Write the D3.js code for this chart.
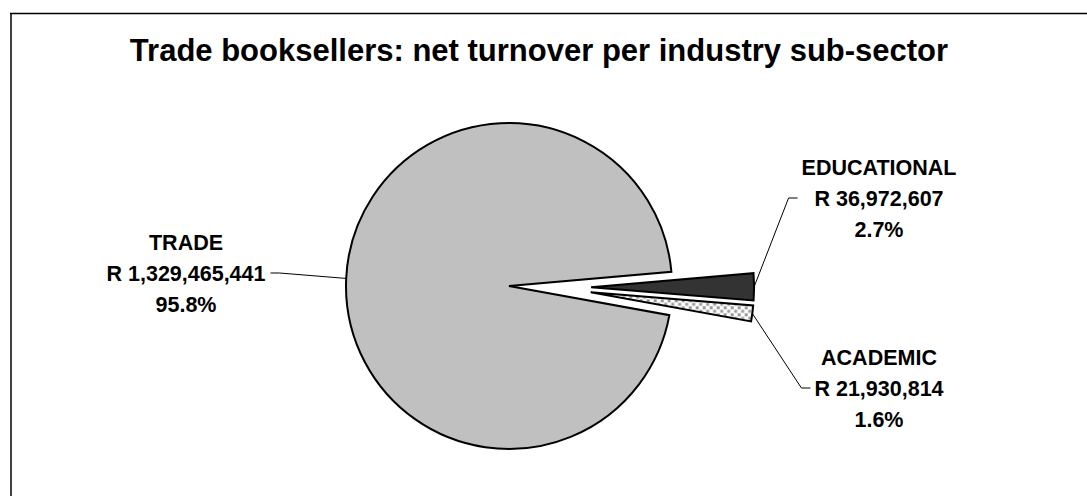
<!DOCTYPE html>
<html>
<head>
<meta charset="utf-8">
<script src="https://cdn.jsdelivr.net/npm/d3@7"></script>
<style>
  body { margin: 0; background: #ffffff; }
  svg { display: block; }
  text { font-family: "Liberation Sans", Arial, sans-serif; font-weight: bold; fill: #000; }
</style>
</head>
<body>
<svg id="chart" width="1087" height="496"></svg>
<script>
// Net turnover of trade booksellers per industry sub-sector (Rand)
const categories = ["TRADE", "EDUCATIONAL", "ACADEMIC"];
const turnover = [1329465441, 36972607, 21930814];
const valueLabels = ["R 1,329,465,441", "R 36,972,607", "R 21,930,814"];
const shareLabels = ["95.8%", "2.7%", "1.6%"];
const titleText = "Trade booksellers: net turnover per industry sub-sector";

const svg = d3.select("#chart");
const W = 1087, H = 496;

// slice styling and layout
const fills = ["#c0c0c0", "#333333", "url(#dots)"];
const exploded = [false, true, true];
const explodeDist = 82;   // distance the exploded group is pulled out
const splitGap = 2.5;     // extra separation between the exploded slices
const cx = 509, cy = 286, radius = 163;
const startDeg = 100.3;
const labelCentres = [[186, 273], [879, 198], [879, 388]];
const lineGap = 31;
const fontSize = 21.5;

// dotted fill for the small slice
const defs = svg.append("defs");
const pat = defs.append("pattern")
  .attr("id", "dots").attr("patternUnits", "userSpaceOnUse")
  .attr("width", 7).attr("height", 7);
pat.append("rect").attr("width", 7).attr("height", 7).attr("fill", "#ffffff");
pat.append("rect").attr("x", 0).attr("y", 0).attr("width", 3).attr("height", 3).attr("fill", "#999999");
pat.append("rect").attr("x", 3.5).attr("y", 3.5).attr("width", 3).attr("height", 3).attr("fill", "#999999");

svg.append("rect").attr("width", W).attr("height", H).attr("fill", "#ffffff");

// chart frame (left and top edges)
svg.append("line").attr("x1", 11).attr("y1", 13).attr("x2", 11).attr("y2", H)
  .attr("stroke", "#404040").attr("stroke-width", 2);
svg.append("line").attr("x1", 10).attr("y1", 13.5).attr("x2", W).attr("y2", 13.5)
  .attr("stroke", "#000").attr("stroke-width", 1.4);

svg.append("text")
  .attr("x", 539).attr("y", 50).attr("dy", "0.35em")
  .attr("text-anchor", "middle")
  .style("font-size", "31px")
  .text(titleText);

const data = categories.map((c, i) => ({ name: c, value: turnover[i], i }));

const rad = d => d * Math.PI / 180;
const pie = d3.pie().sort(null).value(d => d.value)
  .startAngle(rad(startDeg)).endAngle(rad(startDeg) + 2 * Math.PI);
const arcs = pie(data);
const arc = d3.arc().innerRadius(0).outerRadius(radius);

// exploded slices move out together along the group's bisector,
// then are nudged apart across their shared edge
const ex = arcs.filter(a => exploded[a.data.i]);
const groupStart = d3.min(ex, a => a.startAngle);
const groupEnd = d3.max(ex, a => a.endAngle);
const groupMid = (groupStart + groupEnd) / 2;
const shared = ex.length > 1 ? ex[0].endAngle : groupMid;

function offset(a) {
  if (!exploded[a.data.i]) return [0, 0];
  let dx = explodeDist * Math.sin(groupMid);
  let dy = -explodeDist * Math.cos(groupMid);
  const mid = (a.startAngle + a.endAngle) / 2;
  const side = mid < shared ? -1 : 1;
  // perpendicular to the shared edge
  dx += side * splitGap * Math.cos(shared);
  dy += side * splitGap * Math.sin(shared);
  return [dx, dy];
}

const g = svg.append("g").attr("transform", `translate(${cx},${cy})`);
g.selectAll("path.slice").data(arcs).join("path")
  .attr("class", "slice")
  .attr("transform", a => `translate(${offset(a)})`)
  .attr("d", arc)
  .attr("fill", a => fills[a.data.i])
  .attr("stroke", "#000")
  .attr("stroke-width", 2)
  .attr("stroke-linejoin", "miter");

// labels: name / value / share, centred on their middle line
const labelG = svg.append("g");
arcs.forEach(a => {
  const i = a.data.i;
  const [lx, ly] = labelCentres[i];
  const lines = [categories[i], valueLabels[i], shareLabels[i]];
  const tg = labelG.append("g");
  let maxW = 0;
  lines.forEach((t, k) => {
    const el = tg.append("text")
      .attr("x", lx).attr("y", ly + (k - 1) * lineGap).attr("dy", "0.35em")
      .attr("text-anchor", "middle")
      .style("font-size", fontSize + "px")
      .text(t);
    maxW = Math.max(maxW, el.node().getComputedTextLength());
  });

  // leader from the slice edge to the label box
  const mid = (a.startAngle + a.endAngle) / 2;
  const [ox, oy] = offset(a);
  const px = cx + ox + radius * Math.sin(mid);
  const py = cy + oy - radius * Math.cos(mid);
  const onLeft = lx < px;
  const edge = onLeft ? lx + maxW / 2 + 5 : lx - maxW / 2 - 4;
  const tick = onLeft ? edge + 9 : edge - 9;
  labelG.append("polyline")
    .attr("points", [[px, py], [tick, ly], [edge, ly]].map(p => p.join(",")).join(" "))
    .attr("fill", "none")
    .attr("stroke", "#000")
    .attr("stroke-width", 1);
});
</script>
</body>
</html>
